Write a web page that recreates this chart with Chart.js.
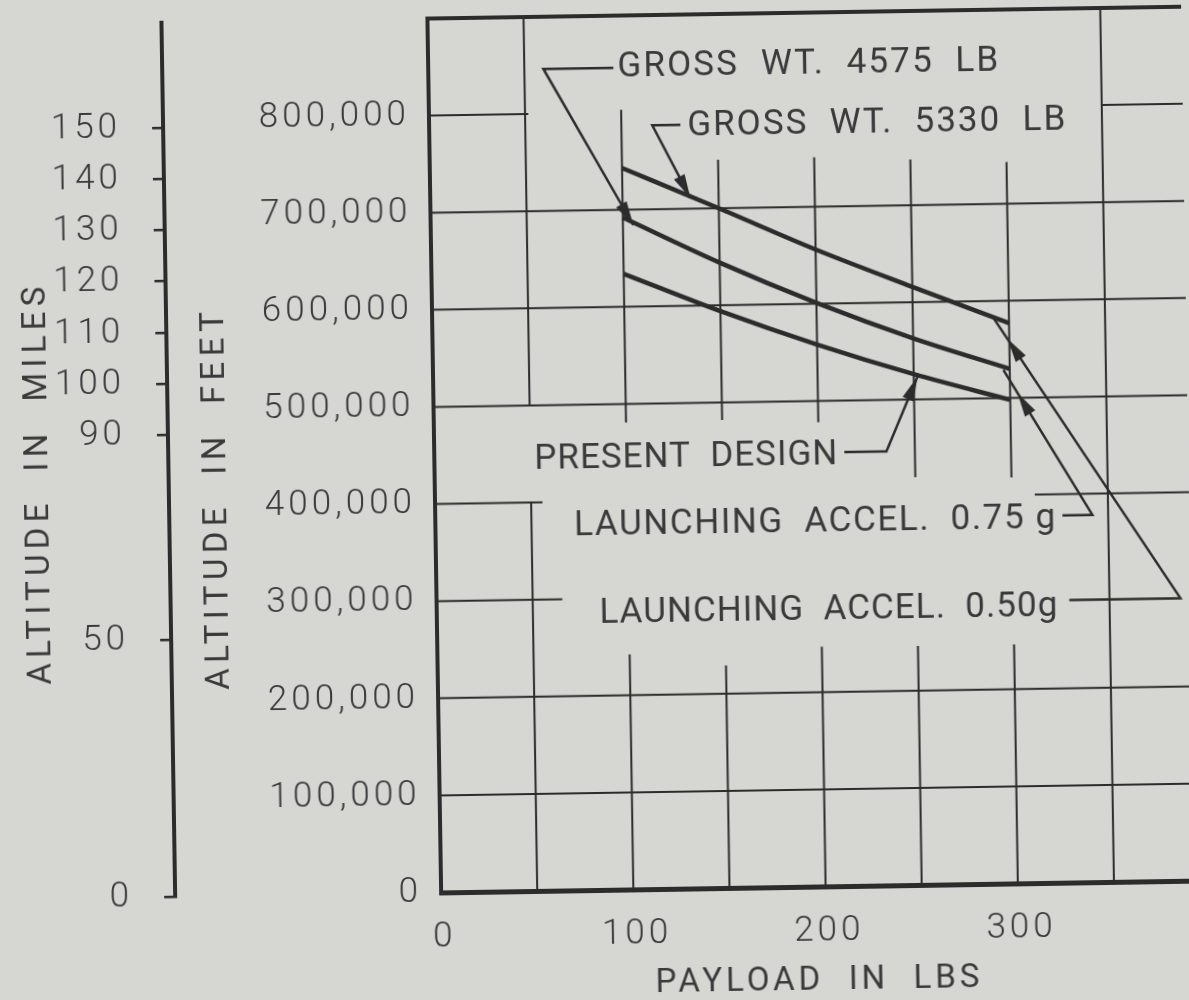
<!DOCTYPE html>
<html>
<head>
<meta charset="utf-8">
<title>Altitude vs payload</title>
<script src="https://cdn.jsdelivr.net/npm/chart.js@4.4.1/dist/chart.umd.min.js"></script>
<style>
  html, body { margin: 0; padding: 0; background: #d6d6d3; overflow: hidden; }
  /* the sheet was scanned a little crooked */
  canvas { display: block; background: #d6d6d3; transform: rotate(-0.9deg); transform-origin: 50% 50%; }
</style>
</head>
<body>
<canvas id="altChart" width="1189" height="1000"></canvas>
<script>
// ===== Data =====
const payload = [100, 150, 200, 250, 300]; // LBS
const gross5330 = [743000, 700000, 656000, 616000, 577000];
const gross4575 = [692000, 644000, 601000, 563000, 530000];
const presentDesign = [634000, 594000, 558000, 526000, 498000];

const payloadTicks = [0, 100, 200, 300];
const feetTicks = [0, 100000, 200000, 300000, 400000, 500000, 600000, 700000, 800000];
const milesTicks = [0, 50, 90, 100, 110, 120, 130, 140, 150];

const FEET_PER_MILE = 5280;
const X_MAX = 392.2;
const Y_MAX = 900000;

const INK = "#2c2c2c";
const TEXT = "#3a3a3a";
const FONT = "Roboto, 'DejaVu Sans', sans-serif";

// ===== Grid as drawn on the sheet (broken where the lettering sits) =====
const vGrid = [
  [50, [[0, 400000], [500000, Y_MAX]]],
  [100, [[0, 242000], [481000, 803000]]],
  [150, [[0, 229000], [482000, 750000]]],
  [200, [[0, 247000], [478000, 751000]]],
  [250, [[0, 246000], [420000, 747000]]],
  [300, [[0, 246000], [418000, 743000]]],
  [350, [[0, Y_MAX]]],
];
const hGrid = [
  [100000, [[0, X_MAX]]],
  [200000, [[0, X_MAX]]],
  [300000, [[0, 65.4]]],
  [400000, [[0, 55.9], [312, X_MAX]]],
  [500000, [[0, X_MAX]]],
  [600000, [[0, X_MAX]]],
  [700000, [[0, X_MAX]]],
  [800000, [[0, 51.7], [350, X_MAX]]],
];

// ===== Call-outs (data coords) =====
const notes = [
  { text: "GROSS  WT.  4575  LB", x: 98.4, y: 846000, width: 381 },
  { text: "GROSS  WT.  5330  LB", x: 134.3, y: 784500, width: 378 },
  { text: "PRESENT  DESIGN", x: 52, y: 444000, width: 303 },
  { text: "LAUNCHING  ACCEL.  0.75 g", x: 72.2, y: 374500, width: 481 },
  { text: "LAUNCHING  ACCEL.  0.50g", x: 84.6, y: 284000, width: 458 },
];
const leaders = [
  { path: [[96.3, 846300], [59.9, 846300], [105.4, 684000]], back: 0 },
  { path: [[130.7, 786500], [116.1, 786500], [135.3, 711000]], back: 0 },
  { path: [[213.3, 447000], [235.2, 447000], [251.9, 523000]], back: 0 },
  { path: [[326.2, 378300], [341.8, 378300], [296.7, 528800]], back: 27 },
  { path: [[329.1, 291000], [386.9, 291000], [292, 582500]], back: 25 },
];

const toPoints = (vals) => vals.map((v, i) => ({ x: payload[i], y: v }));

// letter spacing for the stencil-style lettering
const spacing = {
  id: "spacing",
  beforeDraw(chart) {
    chart.ctx.letterSpacing = "4px";
  },
};

function fitText(ctx, text, x, y, width) {
  ctx.letterSpacing = "0px";
  const w = ctx.measureText(text).width;
  ctx.letterSpacing = Math.max(0, (width - w) / (text.length - 1)) + "px";
  ctx.fillText(text, x, y);
}

const sheetGrid = {
  id: "sheetGrid",
  beforeDatasetsDraw(chart) {
    const { ctx, scales: { x, y } } = chart;
    ctx.save();
    ctx.strokeStyle = INK;
    ctx.lineWidth = 2;
    ctx.beginPath();
    vGrid.forEach(([v, segs]) => {
      const px = x.getPixelForValue(v);
      segs.forEach(([a, b]) => {
        ctx.moveTo(px, y.getPixelForValue(a));
        ctx.lineTo(px, y.getPixelForValue(b));
      });
    });
    hGrid.forEach(([v, segs]) => {
      const py = y.getPixelForValue(v);
      segs.forEach(([a, b]) => {
        ctx.moveTo(x.getPixelForValue(a), py);
        ctx.lineTo(x.getPixelForValue(b), py);
      });
    });
    ctx.stroke();
    // top edge of the frame
    ctx.lineWidth = 4;
    ctx.beginPath();
    ctx.moveTo(x.getPixelForValue(0) - 2, y.getPixelForValue(Y_MAX));
    ctx.lineTo(x.getPixelForValue(X_MAX) + 10, y.getPixelForValue(Y_MAX));
    ctx.stroke();
    ctx.restore();
  },
};

const callouts = {
  id: "callouts",
  afterDatasetsDraw(chart) {
    const { ctx, scales: { x, y, miles } } = chart;
    ctx.save();
    ctx.strokeStyle = INK;
    ctx.fillStyle = INK;
    ctx.lineWidth = 2.5;
    leaders.forEach((l) => {
      const pts = l.path.map(([a, b]) => [x.getPixelForValue(a), y.getPixelForValue(b)]);
      ctx.beginPath();
      pts.forEach(([a, b], i) => (i ? ctx.lineTo(a, b) : ctx.moveTo(a, b)));
      ctx.stroke();
      const [ax, ay] = pts[pts.length - 2];
      const [bx, by] = pts[pts.length - 1];
      const ang = Math.atan2(by - ay, bx - ax);
      const c = Math.cos(ang), s = Math.sin(ang);
      const tx = bx - c * l.back, ty = by - s * l.back;
      ctx.beginPath();
      ctx.moveTo(tx, ty);
      ctx.lineTo(tx - 24 * c + 6 * s, ty - 24 * s - 6 * c);
      ctx.lineTo(tx - 24 * c - 6 * s, ty - 24 * s + 6 * c);
      ctx.closePath();
      ctx.fill();
    });

    ctx.fillStyle = TEXT;
    ctx.textBaseline = "middle";
    ctx.textAlign = "left";
    ctx.font = "35px " + FONT;
    notes.forEach((n) => {
      fitText(ctx, n.text, x.getPixelForValue(n.x), y.getPixelForValue(n.y), n.width);
    });

    // vertical axis titles
    ctx.font = "33px " + FONT;
    const titles = [
      { text: "ALTITUDE  IN  MILES", cx: miles.left + 40, cy: 477, width: 398 },
      { text: "ALTITUDE  IN  FEET", cx: y.left + 49, cy: 495, width: 378 },
    ];
    titles.forEach((t) => {
      ctx.save();
      ctx.translate(t.cx, t.cy);
      ctx.rotate(-Math.PI / 2);
      fitText(ctx, t.text, -t.width / 2, 0, t.width);
      ctx.restore();
    });
    ctx.restore();
  },
};

const noEdgePadding = (s) => {
  s.paddingTop = 0;
  s.paddingBottom = 0;
};

const ctxAlt = document.getElementById("altChart");
new Chart(ctxAlt, {
  type: "line",
  data: {
    datasets: [
      { label: "Gross wt. 5330 lb", data: toPoints(gross5330) },
      { label: "Gross wt. 4575 lb", data: toPoints(gross4575) },
      { label: "Present design", data: toPoints(presentDesign) },
    ],
  },
  options: {
    responsive: false,
    animation: false,
    layout: { padding: { top: 16, right: 0, bottom: 0, left: 0 } },
    plugins: { legend: { display: false }, tooltip: { enabled: false } },
    elements: {
      point: { radius: 0 },
      line: { borderWidth: 4.5, borderColor: INK, cubicInterpolationMode: "monotone", fill: false },
    },
    scales: {
      x: {
        type: "linear",
        min: 0,
        max: X_MAX,
        afterBuildTicks: (s) => { s.ticks = payloadTicks.map((v) => ({ value: v })); },
        afterFit: (s) => { s.height = 110; },
        grid: { display: false, drawTicks: false },
        border: { display: true, width: 5, color: INK },
        ticks: {
          color: TEXT,
          padding: 24,
          labelOffset: 3,
          autoSkip: false,
          maxRotation: 0,
          font: { family: FONT, size: 35, weight: 300 },
        },
        title: {
          display: true,
          text: "PAYLOAD  IN  LBS",
          color: TEXT,
          padding: { top: 4, bottom: -5 },
          font: { family: FONT, size: 33 },
        },
      },
      y: {
        type: "linear",
        position: "left",
        weight: 0,
        min: 0,
        max: Y_MAX,
        afterBuildTicks: (s) => { s.ticks = feetTicks.map((v) => ({ value: v })); },
        afterFit: (s) => { s.width = 266; noEdgePadding(s); },
        grid: { display: false, drawTicks: false },
        border: { display: true, width: 4, color: INK },
        ticks: {
          color: TEXT,
          padding: 19,
          autoSkip: false,
          font: { family: FONT, size: 35, weight: 300 },
          callback: (v) => v.toLocaleString("en-US"),
        },
      },
      miles: {
        type: "linear",
        position: "left",
        weight: 1,
        min: 0,
        max: Y_MAX / FEET_PER_MILE,
        afterBuildTicks: (s) => { s.ticks = milesTicks.map((v) => ({ value: v })); },
        afterFit: (s) => { s.width = 169; noEdgePadding(s); },
        grid: { display: true, drawOnChartArea: false, drawTicks: true, tickLength: 11, lineWidth: 2.5, color: INK },
        border: { display: true, width: 4, color: INK },
        ticks: {
          color: TEXT,
          padding: 31,
          autoSkip: false,
          font: { family: FONT, size: 35, weight: 300 },
          callback: (v) => String(v),
        },
      },
    },
  },
  plugins: [spacing, sheetGrid, callouts],
});
</script>
</body>
</html>
